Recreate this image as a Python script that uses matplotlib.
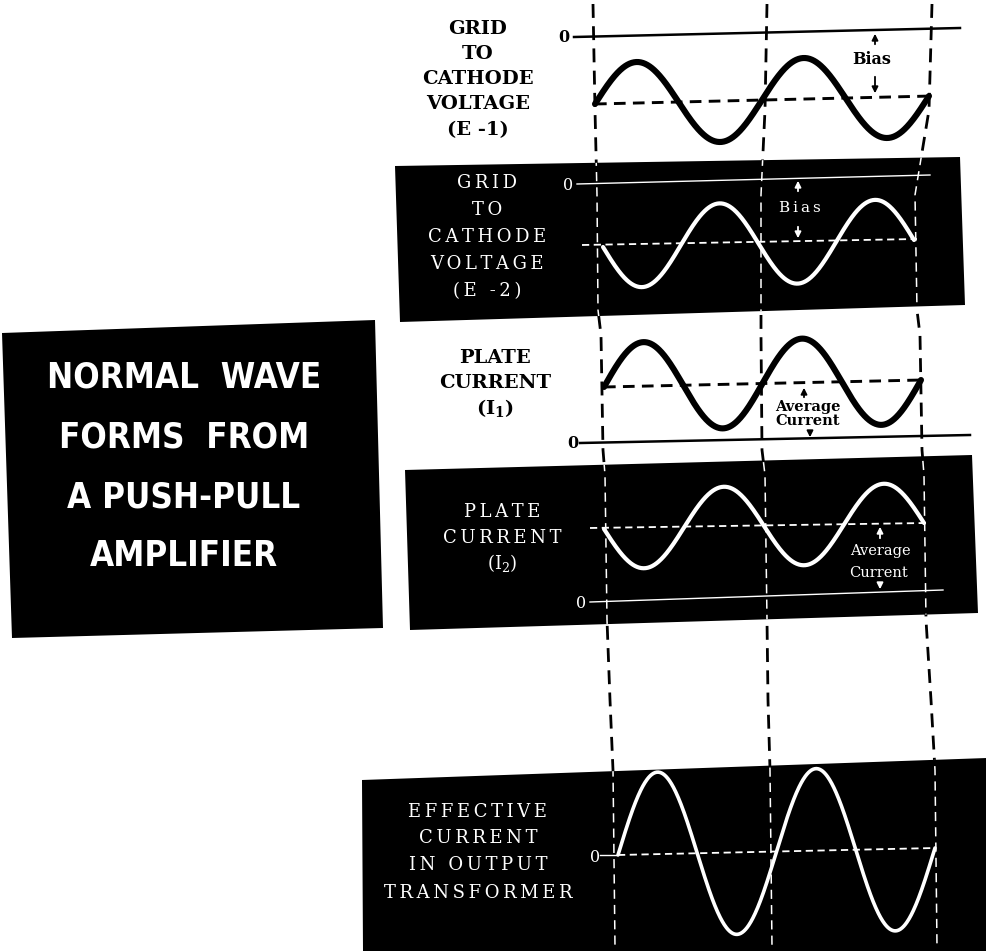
import numpy as np
import matplotlib
matplotlib.use("Agg")
import matplotlib.pyplot as plt
from matplotlib.patches import Polygon

plt.rcParams["mathtext.fontset"] = "dejavuserif"

W, H = 987, 951

# ---------------- data (pixel space, y downward) -------------
title_lines = ["NORMAL  WAVE", "FORMS  FROM", "A PUSH-PULL", "AMPLIFIER"]
title_y = [378, 438, 497, 556]

# panel labels
p1_label = ["GRID", "TO", "CATHODE", "VOLTAGE", "(E -1)"]
p1_label_y = [29, 54, 79, 104, 130]
p2_label = ["GRID", "TO", "CATHODE", "VOLTAGE", "(E -2)"]
p2_label_y = [183, 210, 237, 264, 291]
p3_label = ["PLATE", "CURRENT", r"(I$_\mathbf{1}$)"]
p3_label_y = [358, 383, 408]
p4_label = ["PLATE", "CURRENT", r"(I$_2$)"]
p4_label_y = [512, 538, 563]
p5_label = ["EFFECTIVE", "CURRENT", "IN OUTPUT", "TRANSFORMER"]
p5_label_y = [812, 838, 865, 893]

# waves: start x, end x, baseline y left, baseline y right, amplitude, direction (+1 = rises first), cycles
wave_x0 = [595, 603, 604, 604, 618]
wave_x1 = [929, 914, 921, 924, 935]
wave_yl = [104, 247, 387, 529, 855]
wave_yr = [96, 240, 380, 523, 848]
wave_amp = [41, 41, 44, 40, 82]
wave_dir = [1, -1, 1, -1, 1]
wave_cycles = [2, 2, 2, 2, 2]

# zero lines: (x0, y0, x1, y1)
zero_lines = [(574, 37, 960, 28), (577, 184, 930, 175), (580, 443, 970, 435),
              (590, 602, 943, 590), (600, 855, 616, 855)]
zero_label_xy = [(564, 37), (568, 186), (573, 443), (581, 604), (595, 857)]

# baselines (dashed)
base_lines = [(595, 104, 932, 96), (582, 245, 917, 239), (604, 387, 922, 380),
              (590, 528, 926, 523), (618, 855, 935, 848)]

# vertical dashed guide lines, as polylines (y breakpoints, x of each guide)
guide_y = [4, 110, 195, 310, 335, 450, 475, 620, 700, 770, 947]
guide_left = [593, 595, 597, 598, 601, 603, 605, 607, 610, 613, 615]
guide_mid = [767, 765, 761, 761, 761, 762, 765, 767, 768, 770, 772]
guide_right = [932, 929, 915, 917, 920, 922, 924, 926, 931, 935, 937]

# boxes
title_box = [(2, 333), (375, 320), (383, 628), (12, 638)]
box2 = [(395, 166), (960, 157), (965, 305), (400, 322)]
box4 = [(405, 470), (972, 455), (978, 613), (410, 630)]
box5 = [(362, 780), (987, 758), (987, 951), (363, 951)]

# ---------------- drawing ---------------------------------------------------------
fig = plt.figure(figsize=(W / 100, H / 100), dpi=100)
ax = fig.add_axes([0, 0, 1, 1])
ax.set_xlim(0, W)
ax.set_ylim(H, 0)
ax.axis("off")

SERIF = ["DejaVu Serif"]
COND = ["DejaVu Sans"]


def spaced(s):
    if "$" in s:
        return s
    return "\u2009".join(list(s))


guides = [guide_left, guide_mid, guide_right]

# guides (black, below boxes)
for gx in guides:
    ax.plot(gx, guide_y, color="black", lw=2.0, ls=(0, (5, 3)), zorder=1)

# boxes
patches = {}
for name, pts in [("t", title_box), ("b2", box2), ("b4", box4), ("b5", box5)]:
    p = Polygon(pts, closed=True, facecolor="black", edgecolor="none", zorder=2)
    ax.add_patch(p)
    patches[name] = p

# white guides inside black boxes
for key in ["b2", "b4", "b5"]:
    for gx in guides:
        ln, = ax.plot(gx, guide_y, color="white", lw=1.1, ls=(0, (6, 4)), zorder=3)
        ln.set_clip_path(patches[key])

# title text
for s, y in zip(title_lines, title_y):
    ax.text(184, y, s, color="white", fontsize=25, fontweight="bold",
            family=COND, fontstretch="condensed", ha="center", va="center", zorder=4)

# labels
for s, y in zip(p1_label, p1_label_y):
    ax.text(478, y, s, color="black", fontsize=14, fontweight="bold", family=SERIF,
            ha="center", va="center", zorder=4)
for s, y in zip(p2_label, p2_label_y):
    ax.text(487, y, spaced(s), color="white", fontsize=13, family=SERIF,
            ha="center", va="center", zorder=4)
for s, y in zip(p3_label, p3_label_y):
    ax.text(495, y, s, color="black", fontsize=14, fontweight="bold", family=SERIF,
            ha="center", va="center", zorder=4)
for s, y in zip(p4_label, p4_label_y):
    ax.text(502, y, spaced(s), color="white", fontsize=13, family=SERIF,
            ha="center", va="center", zorder=4)
for s, y in zip(p5_label, p5_label_y):
    ax.text(478, y, spaced(s), color="white", fontsize=13, family=SERIF,
            ha="center", va="center", zorder=4)

# colours per panel
panel_col = ["black", "white", "black", "white", "white"]
wave_lw = [4.4, 3.0, 4.4, 3.0, 2.6]
zero_lw = [1.8, 1.0, 1.8, 1.0, 1.0]
zero_bold = ["bold", "normal", "bold", "normal", "normal"]

for i in range(5):
    c = panel_col[i]
    x0, y0, x1, y1 = zero_lines[i]
    ax.plot([x0, x1], [y0, y1], color=c, lw=zero_lw[i], zorder=5)
    zx, zy = zero_label_xy[i]
    ax.text(zx, zy, "0", color=c, fontsize=11.5, fontweight=zero_bold[i],
            family=SERIF, ha="center", va="center", zorder=5)
    bx0, by0, bx1, by1 = base_lines[i]
    ax.plot([bx0, bx1], [by0, by1], color=c, lw=zero_lw[i] + 0.3,
            ls=(0, (4, 2.5)), zorder=5)
    t = np.linspace(0, 1, 600)
    x = wave_x0[i] + (wave_x1[i] - wave_x0[i]) * t
    base = wave_yl[i] + (wave_yr[i] - wave_yl[i]) * t
    y = base - wave_dir[i] * wave_amp[i] * np.sin(2 * np.pi * wave_cycles[i] * t)
    ax.plot(x, y, color=c, lw=wave_lw[i], solid_capstyle="round", zorder=6)

# annotations
arrow_k = dict(arrowstyle="-|>", lw=1.3, mutation_scale=9)
# panel 1 Bias
ax.annotate("", xy=(875, 31), xytext=(875, 47), arrowprops=dict(color="black", **arrow_k), zorder=7)
ax.text(872, 60, "Bias", fontsize=11.5, fontweight="bold", family=SERIF, ha="center", va="center")
ax.annotate("", xy=(875, 96), xytext=(875, 74), arrowprops=dict(color="black", **arrow_k), zorder=7)
# panel 2 Bias
ax.annotate("", xy=(798, 178), xytext=(798, 194), arrowprops=dict(color="white", **arrow_k), zorder=7)
ax.text(800, 208, spaced("Bias"), color="white", fontsize=11, family=SERIF,
        ha="center", va="center", zorder=7)
ax.annotate("", xy=(798, 241), xytext=(798, 224), arrowprops=dict(color="white", **arrow_k), zorder=7)
# panel 3 Average Current
ax.annotate("", xy=(804, 385), xytext=(804, 400), arrowprops=dict(color="black", **arrow_k), zorder=7)
ax.text(808, 407, "Average", fontsize=10.5, fontweight="bold", family=SERIF, ha="center", va="center")
ax.text(808, 421, "Current", fontsize=10.5, fontweight="bold", family=SERIF, ha="center", va="center")
ax.annotate("", xy=(810, 440), xytext=(810, 430), arrowprops=dict(color="black", **arrow_k), zorder=7)
# panel 4 Average Current
ax.annotate("", xy=(880, 524), xytext=(880, 541), arrowprops=dict(color="white", **arrow_k), zorder=7)
ax.text(880, 551, "Average", color="white", fontsize=10.5, family=SERIF, ha="center", va="center", zorder=7)
ax.text(879, 573, "Current", color="white", fontsize=10.5, family=SERIF, ha="center", va="center", zorder=7)
ax.annotate("", xy=(880, 592), xytext=(880, 582), arrowprops=dict(color="white", **arrow_k), zorder=7)

fig.savefig("out.png", dpi=100, facecolor="white")
